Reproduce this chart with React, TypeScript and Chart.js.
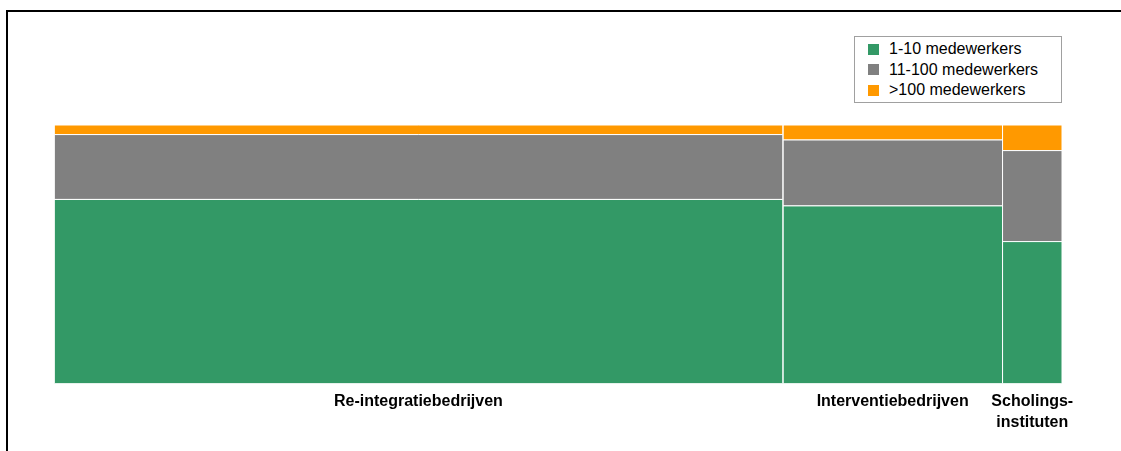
import React, { useEffect, useRef } from "react";
import { Chart, registerables } from "chart.js";

Chart.register(...registerables);

const categories = ["Re-integratiebedrijven", "Interventiebedrijven", "Scholings-\ninstituten"];
const columnShares = [72.3, 21.8, 5.9];
const seriesNames = ["1-10 medewerkers", "11-100 medewerkers", ">100 medewerkers"];
const smallFirms = [71.2, 68.7, 54.9];
const mediumFirms = [25.1, 25.5, 35.2];
const largeFirms = [3.7, 5.8, 9.9];
const seriesColors = ["#339966", "#808080", "#FF9900"];

const FONT = "'Liberation Sans', Arial, sans-serif";

export default function App() {
  const canvasRef = useRef<HTMLCanvasElement | null>(null);

  useEffect(() => {
    const series = [smallFirms, mediumFirms, largeFirms];
    const bounds: number[] = [0];
    columnShares.forEach((w, i) => bounds.push(bounds[i] + w));
    const centers = columnShares.map((w, i) => bounds[i] + w / 2);

    const datasets: any[] = [];
    series.forEach((vals, s) => {
      vals.forEach((v, c) => {
        let base = 0;
        for (let k = 0; k < s; k++) base += series[k][c];
        const x0 = bounds[c];
        const x1 = bounds[c + 1];
        const y0 = base;
        const y1 = base + v;
        datasets.push({
          label: seriesNames[s],
          data: [
            { x: x0, y: y0 },
            { x: x1, y: y0 },
            { x: x1, y: y1 },
            { x: x0, y: y1 },
            { x: x0, y: y0 },
          ],
          fill: "shape",
          backgroundColor: seriesColors[s],
          borderColor: "#ffffff",
          borderWidth: 1,
          pointRadius: 0,
          pointHoverRadius: 0,
          tension: 0,
        });
      });
    });

    const chart = new Chart(canvasRef.current as HTMLCanvasElement, {
      type: "line",
      data: { datasets },
      options: {
        animation: false,
        responsive: false,
        maintainAspectRatio: false,
        layout: { padding: { left: 54, right: 59, top: 125, bottom: 0 } },
        plugins: {
          legend: { display: false },
          tooltip: { enabled: false },
        },
        scales: {
          x: {
            type: "linear",
            min: 0,
            max: 100,
            grid: { display: false, drawTicks: false },
            border: { display: false },
            afterBuildTicks: (scale: any) => {
              scale.ticks = centers.map((v) => ({ value: v }));
            },
            afterFit: (scale: any) => {
              scale.height = 67.5;
            },
            ticks: {
              autoSkip: false,
              maxRotation: 0,
              minRotation: 0,
              padding: 7,
              color: "#000000",
              font: { family: FONT, size: 16, weight: "bold", lineHeight: 1.35 },
              callback: (_v: any, i: number) => categories[i].split("\n"),
            },
          },
          y: {
            type: "linear",
            min: 0,
            max: 100,
            display: false,
          },
        },
      },
    } as any);
    return () => chart.destroy();
  }, []);

  return (
    <div style={{ position: "fixed", left: 0, top: 0, width: 1121, height: 451, background: "#fff", overflow: "hidden" }}>
      <div
        style={{
          position: "absolute",
          left: 6,
          top: 10,
          width: 1115,
          height: 441,
          boxSizing: "border-box",
          borderLeft: "2px solid #000",
          borderTop: "2px solid #000",
        }}
      />
      <canvas ref={canvasRef} width={1121} height={451} style={{ position: "absolute", left: 0, top: 0 }} />
      <div
        style={{
          position: "absolute",
          left: 854,
          top: 36,
          width: 208,
          height: 67,
          boxSizing: "border-box",
          border: "1px solid #a0a0a0",
          background: "#fff",
          paddingTop: 2,
          fontFamily: FONT,
          fontSize: 16,
          color: "#000",
        }}
      >
        {seriesNames.map((name, i) => (
          <div key={name} style={{ display: "flex", alignItems: "center", height: 20.5, whiteSpace: "nowrap" }}>
            <span
              style={{
                display: "inline-block",
                width: 11,
                height: 11,
                marginLeft: 13,
                marginRight: 10,
                background: seriesColors[i],
              }}
            />
            <span>{name}</span>
          </div>
        ))}
      </div>
    </div>
  );
}
